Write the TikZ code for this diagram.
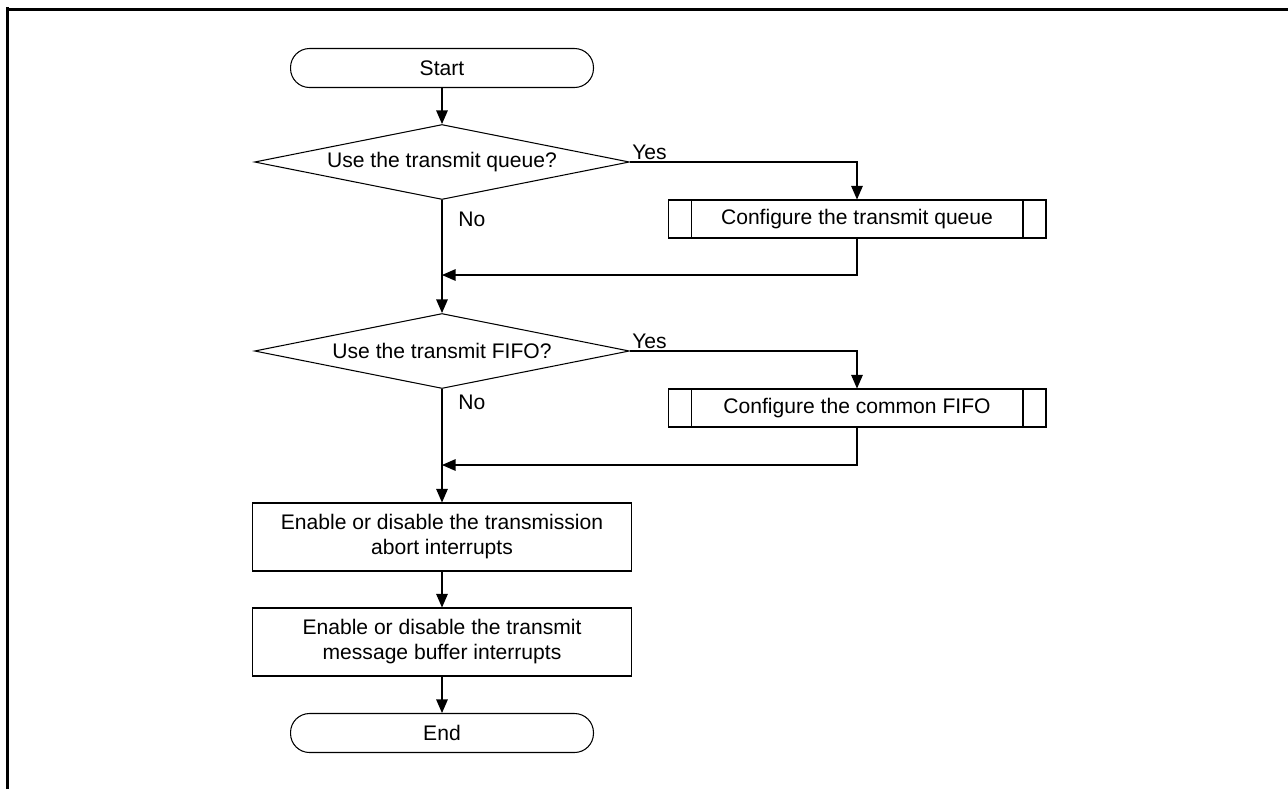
\documentclass[tikz,border=0pt]{standalone}
\usepackage{fontspec}
\setmainfont{Liberation Sans}
\usetikzlibrary{shapes.geometric, arrows.meta}

\begin{document}
\begin{tikzpicture}[x=0.02cm, y=-0.02cm, line width=0.6pt,
  >={Triangle[length=0.27cm, width=0.23cm]},
  every node/.style={font=\fontsize{12}{14.2}\selectfont},
  terminal/.style={draw, rounded corners=0.38cm, minimum width=6.06cm, minimum height=0.78cm},
  decision/.style={draw, diamond, aspect=5, inner sep=0pt, minimum width=7.5cm, minimum height=1.5cm},
  subproc/.style={draw, minimum width=7.56cm, minimum height=0.76cm,
    path picture={\draw ([xshift=0.46cm]path picture bounding box.north west) -- ([xshift=0.46cm]path picture bounding box.south west)
      ([xshift=-0.46cm]path picture bounding box.north east) -- ([xshift=-0.46cm]path picture bounding box.south east);}},
  process/.style={draw, align=center, minimum width=7.58cm, minimum height=1.36cm},
  lbl/.style={inner sep=1pt}]
\useasboundingbox (0,0) rectangle (1288,789);

% frame
\draw[line width=0.06cm] (7.5,789) -- (7.5,7);
\draw[line width=0.06cm] (6,9.5) -- (1288,9.5);

\node[terminal] (start) at (442,68) {Start};
\node[decision] (useq) at (442,162) {Use the transmit queue?};
\node[subproc] (cfgq) at (857,219) {Configure the transmit queue};
\node[decision] (usef) at (442,351) {Use the transmit FIFO?};
\node[subproc] (cfgf) at (857,408) {Configure the common FIFO};
\node[process] (abort) at (442,537) {Enable or disable the transmission\\abort interrupts};
\node[process] (mbuf) at (442,642) {Enable or disable the transmit\\message buffer interrupts};
\node[terminal] (end) at (442,733) {End};

\coordinate (joinq) at (442,275);
\coordinate (joinf) at (442,465);

\draw[->] (start) -- (useq);
\draw[->] (useq.east) -- node[lbl, pos=0, anchor=south west] {Yes} (useq.east -| cfgq) -- (cfgq);
\draw[->] (useq) -- node[lbl, pos=0.17, right=0.28cm] {No} (usef);
\draw[->] (cfgq) |- (joinq);

\draw[->] (usef.east) -- node[lbl, pos=0, anchor=south west] {Yes} (usef.east -| cfgf) -- (cfgf);
\draw[->] (usef) -- node[lbl, pos=0.12, right=0.28cm] {No} (abort);
\draw[->] (cfgf) |- (joinf);

\draw[->] (abort) -- (mbuf);
\draw[->] (mbuf) -- (end);
\end{tikzpicture}
\end{document}
